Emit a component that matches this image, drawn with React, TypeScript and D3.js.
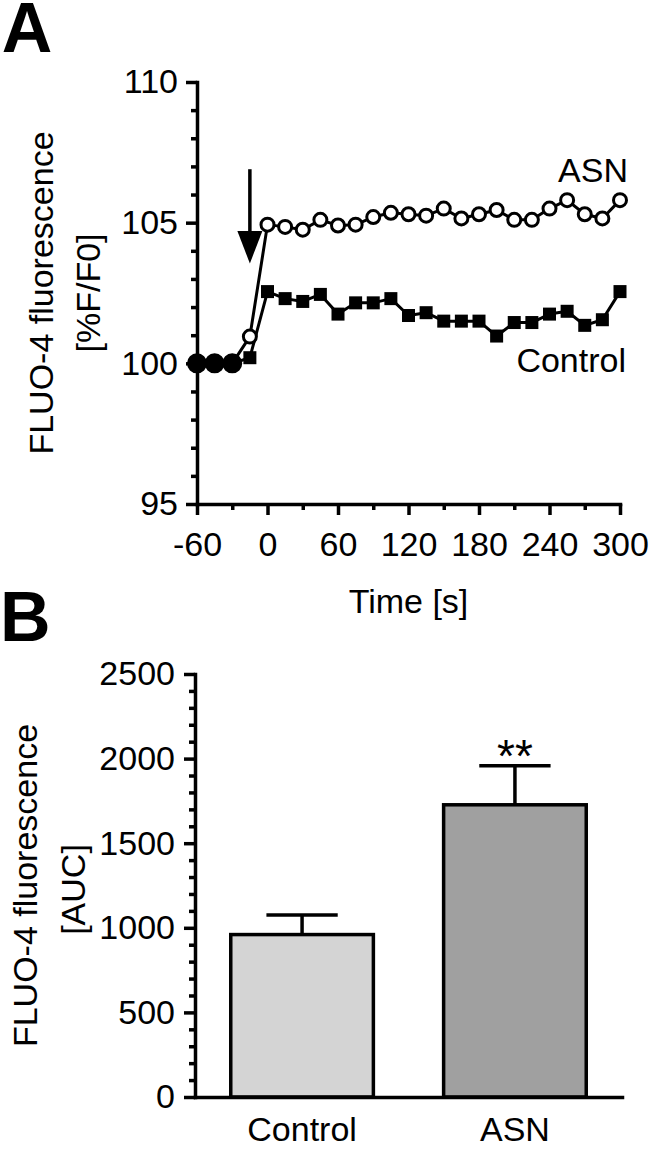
import React, { useEffect, useRef } from 'react';
import * as d3 from 'd3';

// Panel A: time course (s) and fluorescence (%F/F0)
const times = [-60, -45, -30, -15, 0, 15, 30, 45, 60, 75, 90, 105, 120, 135, 150, 165, 180, 195, 210, 225, 240, 255, 270, 285, 300];
const asnValues = [100, 100, 100, 100.95, 104.93, 104.85, 104.75, 105.1, 104.9, 104.93, 105.2, 105.35, 105.3, 105.25, 105.5, 105.15, 105.3, 105.45, 105.1, 105.1, 105.5, 105.8, 105.3, 105.15, 105.8];
const controlValues = [100, 100, 100, 100.2, 102.55, 102.3, 102.2, 102.45, 101.75, 102.15, 102.15, 102.3, 101.7, 101.8, 101.5, 101.5, 101.5, 100.97, 101.45, 101.45, 101.75, 101.85, 101.35, 101.55, 102.55];
const baselineTimes = [-60, -45, -30]; // shared points drawn filled
const timeTicks = [-60, 0, 60, 120, 180, 240, 300];
const timeMinorTicks = [-30, 30, 90, 150, 210, 270];
const fluoTicks = [95, 100, 105, 110];
const arrowTime = -15;

// Panel B: area under curve
const groups = ['Control', 'ASN'];
const aucMeans = [960, 1727];
const aucSem = [115, 231];
const barFills = ['#d4d4d4', '#a0a0a0'];
const aucTicks = [0, 500, 1000, 1500, 2000, 2500];

const FONT = '"Liberation Sans", Arial, Helvetica, sans-serif';
const plain = (d: any) => String(d).replace('\u2212', '-');

export default function App() {
  const ref = useRef<SVGSVGElement>(null);

  useEffect(() => {
    if (!ref.current) return;
    const svg = d3.select(ref.current);
    svg.selectAll('*').remove();
    svg.style('font-family', FONT);

    const styleAxis = (g: any, fs = 34) => {
      g.selectAll('path.domain').attr('stroke-width', 3.5).attr('stroke-linecap', 'square');
      g.selectAll('.tick line').attr('stroke-width', 3.5);
      g.selectAll('.tick text').attr('font-size', fs).attr('font-family', FONT).attr('fill', '#000');
    };

    // ---------- Panel A ----------
    const x = d3.scaleLinear().domain([-60, 300]).range([197, 620]);
    const y = d3.scaleLinear().domain([95, 110]).range([504, 82]);

    svg.append('text').text('A').attr('x', 1.7).attr('y', 51.7)
      .attr('font-size', 70).attr('font-weight', 'bold');

    // minor ticks
    svg.append('g').attr('transform', `translate(${x(-60)},0)`)
      .call(d3.axisLeft(y).tickValues(d3.range(96, 110).filter((v) => v % 5 !== 0)).tickSize(6).tickFormat(() => '').tickSizeOuter(0))
      .call((g) => g.select('.domain').remove())
      .call((g) => g.selectAll('.tick line').attr('stroke-width', 3.5));
    svg.append('g').attr('transform', `translate(0,${y(95)})`)
      .call(d3.axisBottom(x).tickValues(timeMinorTicks).tickSize(6).tickFormat(() => '').tickSizeOuter(0))
      .call((g) => g.select('.domain').remove())
      .call((g) => g.selectAll('.tick line').attr('stroke-width', 3.5));

    svg.append('g').attr('transform', `translate(${x(-60)},0)`)
      .call(d3.axisLeft(y).tickValues(fluoTicks).tickFormat(plain).tickSize(11).tickPadding(8).tickSizeOuter(0))
      .call((g) => styleAxis(g));
    svg.append('g').attr('transform', `translate(0,${y(95)})`)
      .call(d3.axisBottom(x).tickValues(timeTicks).tickFormat(plain).tickSize(11).tickPadding(17).tickSizeOuter(0))
      .call((g) => styleAxis(g));

    svg.append('text').text('Time [s]').attr('x', (x(-60) + x(300)) / 2).attr('y', 613)
      .attr('text-anchor', 'middle').attr('font-size', 34);

    const yMidA = (y(95) + y(110)) / 2;
    svg.append('text').text('FLUO-4 fluorescence')
      .attr('transform', `translate(53,${yMidA}) rotate(-90)`)
      .attr('text-anchor', 'middle').attr('font-size', 34);
    svg.append('text').text('[%F/F0]')
      .attr('transform', `translate(100,${yMidA}) rotate(-90)`)
      .attr('text-anchor', 'middle').attr('font-size', 34);

    const line = d3.line<number>().x((_, i) => x(times[i])).y((d) => y(d));

    svg.append('path').datum(controlValues).attr('d', line)
      .attr('fill', 'none').attr('stroke', '#000').attr('stroke-width', 3).attr('stroke-linejoin', 'round');
    svg.append('path').datum(asnValues).attr('d', line)
      .attr('fill', 'none').attr('stroke', '#000').attr('stroke-width', 3).attr('stroke-linejoin', 'round');

    const sq = 13;
    svg.selectAll('.ctrl').data(controlValues).enter().append('rect')
      .attr('x', (_, i) => x(times[i]) - sq / 2).attr('y', (d) => y(d) - sq / 2)
      .attr('width', sq).attr('height', sq).attr('fill', '#000');

    svg.selectAll('.asn').data(asnValues).enter().append('circle')
      .attr('cx', (_, i) => x(times[i])).attr('cy', (d) => y(d))
      .attr('r', (_, i) => (baselineTimes.includes(times[i]) ? 8.5 : 6.5))
      .attr('fill', (_, i) => (baselineTimes.includes(times[i]) ? '#000' : '#fff'))
      .attr('stroke', '#000').attr('stroke-width', 3);

    // stimulus arrow
    svg.append('line').attr('x1', x(arrowTime)).attr('x2', x(arrowTime))
      .attr('y1', y(106.9)).attr('y2', y(104.5)).attr('stroke', '#000').attr('stroke-width', 3.5);
    svg.append('path')
      .attr('d', `M${x(arrowTime) - 12.5},${y(104.7)}L${x(arrowTime) + 12.5},${y(104.7)}L${x(arrowTime)},${y(103.55)}Z`)
      .attr('fill', '#000');

    svg.append('text').text('ASN').attr('x', 628).attr('y', 182).attr('text-anchor', 'end').attr('font-size', 34);
    svg.append('text').text('Control').attr('x', 626).attr('y', 372).attr('text-anchor', 'end').attr('font-size', 34);

    // ---------- Panel B ----------
    const xb = d3.scaleBand().domain(groups).range([195, 622]).paddingInner(0.33).paddingOuter(0.168);
    const yb = d3.scaleLinear().domain([0, 2500]).range([1097, 674]);

    svg.append('text').text('B').attr('x', 0).attr('y', 640.7)
      .attr('font-size', 70).attr('font-weight', 'bold');

    svg.append('g').attr('transform', `translate(${xb.range()[0]},0)`)
      .call(d3.axisLeft(yb).tickValues(d3.range(100, 2500, 100).filter((v) => v % 500 !== 0)).tickSize(6).tickFormat(() => '').tickSizeOuter(0))
      .call((g) => g.select('.domain').remove())
      .call((g) => g.selectAll('.tick line').attr('stroke-width', 3.5));

    // bars
    svg.selectAll('.bar').data(groups).enter().append('rect')
      .attr('x', (d) => xb(d)!).attr('y', (_, i) => yb(aucMeans[i]))
      .attr('width', xb.bandwidth()).attr('height', (_, i) => yb(0) - yb(aucMeans[i]))
      .attr('fill', (_, i) => barFills[i]).attr('stroke', '#000').attr('stroke-width', 3.5);

    // error bars (upper only)
    groups.forEach((gname, i) => {
      const cx = xb(gname)! + xb.bandwidth() / 2;
      const top = yb(aucMeans[i] + aucSem[i]);
      const half = xb.bandwidth() / 4;
      svg.append('line').attr('x1', cx).attr('x2', cx).attr('y1', yb(aucMeans[i])).attr('y2', top)
        .attr('stroke', '#000').attr('stroke-width', 3.5);
      svg.append('line').attr('x1', cx - half).attr('x2', cx + half).attr('y1', top).attr('y2', top)
        .attr('stroke', '#000').attr('stroke-width', 3.5);
    });

    svg.append('text').text('**')
      .attr('x', xb('ASN')! + xb.bandwidth() / 2).attr('y', 772)
      .attr('text-anchor', 'middle').attr('font-size', 46);

    svg.append('g').attr('transform', `translate(${xb.range()[0]},0)`)
      .call(d3.axisLeft(yb).tickValues(aucTicks).tickFormat(plain).tickSize(11).tickPadding(9).tickSizeOuter(0))
      .call((g) => styleAxis(g));
    svg.append('g').attr('transform', `translate(0,${yb(0)})`)
      .call(d3.axisBottom(xb).tickSize(0).tickPadding(20).tickSizeOuter(0))
      .call((g) => styleAxis(g));

    const yMidB = (yb(0) + yb(2500)) / 2;
    svg.append('text').text('FLUO-4 fluorescence')
      .attr('transform', `translate(37,${yMidB}) rotate(-90)`)
      .attr('text-anchor', 'middle').attr('font-size', 34);
    svg.append('text').text('[AUC]')
      .attr('transform', `translate(85,${yMidB + 4}) rotate(-90)`)
      .attr('text-anchor', 'middle').attr('font-size', 34);
  }, []);

  return (
    <svg
      ref={ref}
      width={649}
      height={1150}
      style={{ position: 'absolute', left: 0, top: 0, background: '#fff' }}
    />
  );
}
